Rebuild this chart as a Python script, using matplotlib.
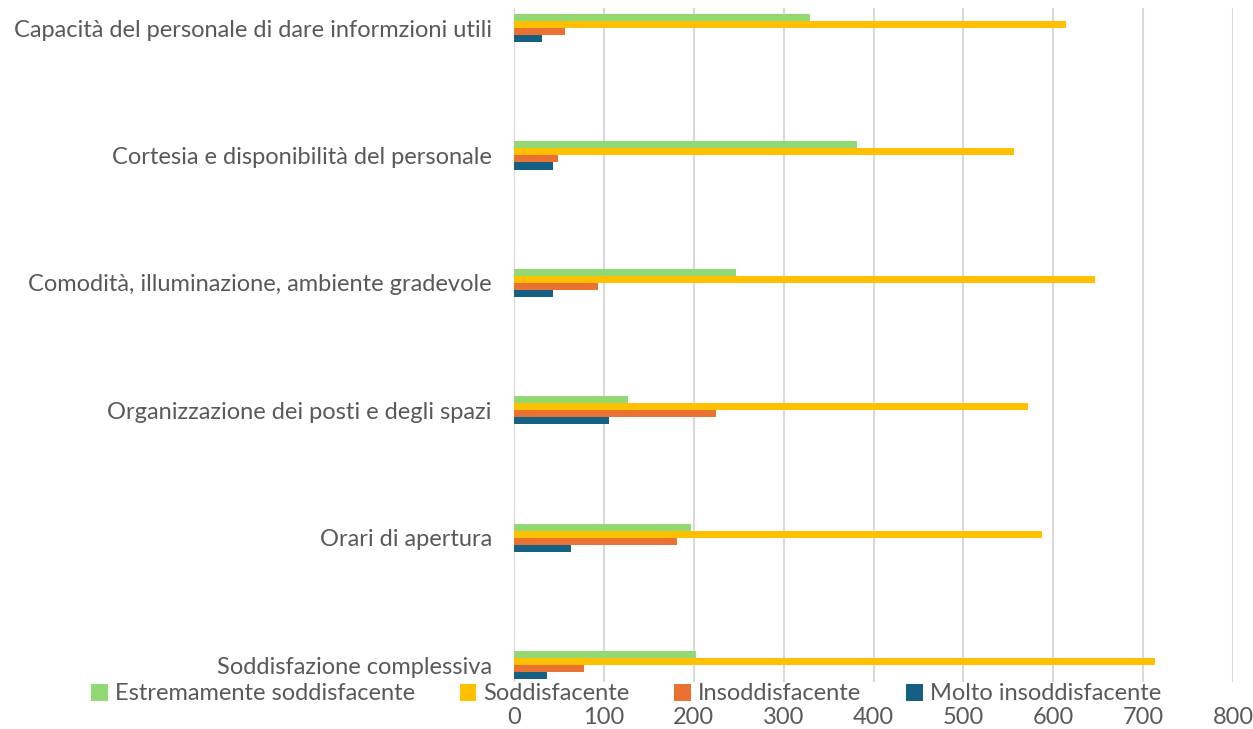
import numpy as np
import matplotlib
matplotlib.use("Agg")
import matplotlib.pyplot as plt
from matplotlib.patches import Patch

plt.rcParams['font.family'] = ['Lato', 'DejaVu Sans']

# categories listed top to bottom
categories = [
    "Capacità del personale di dare informzioni utili",
    "Cortesia e disponibilità del personale",
    "Comodità, illuminazione, ambiente gradevole",
    "Organizzazione dei posti e degli spazi",
    "Orari di apertura",
    "Soddisfazione complessiva",
]
series_names = ["Estremamente soddisfacente", "Soddisfacente",
                "Insoddisfacente", "Molto insoddisfacente"]
estremamente = [329, 382, 247, 127, 197, 202]
soddisfacente = [614, 556, 646, 572, 588, 713]
insoddisfacente = [57, 49, 94, 225, 181, 78]
molto_insodd = [31, 43, 43, 106, 63, 37]
x_ticks = [0, 100, 200, 300, 400, 500, 600, 700, 800]

colors = ["#92D873", "#FFC000", "#E97132", "#156082"]
text_col = "#595959"

W, H = 1253, 729
fig = plt.figure(figsize=(W / 100, H / 100), dpi=100)
ax = fig.add_axes([514 / W, 1 - 682 / H, (1233 - 514) / W, (682 - 8) / H])

y = np.arange(len(categories))
h = 0.0555
data = [estremamente, soddisfacente, insoddisfacente, molto_insodd]
for k, (vals, col, name) in enumerate(zip(data, colors, series_names)):
    ax.barh(y + (k - 1.5) * h, vals, height=h, color=col, label=name, zorder=3)

ax.set_xlim(0, 800)
ax.set_ylim(5.133, -0.157)
ax.set_xticks(x_ticks)
ax.set_yticks(y)
ax.set_yticklabels(categories)
ax.tick_params(axis='y', length=0, pad=16, labelsize=17, labelcolor=text_col)
ax.tick_params(axis='x', length=0, pad=18, labelsize=17, labelcolor=text_col)
for s in ax.spines.values():
    s.set_visible(False)
ax.grid(axis='x', color="#D9D9D9", linewidth=1.5, zorder=0)
ax.set_axisbelow(True)

handles = [Patch(facecolor=c, edgecolor='none') for c in colors]
leg = fig.legend(handles, series_names, loc='center', ncol=4,
                 bbox_to_anchor=(626 / W, 1 - 694 / H), frameon=False,
                 fontsize=17, handlelength=0.7, handleheight=0.7,
                 handletextpad=0.3, columnspacing=1.9, labelcolor=text_col,
                 borderpad=0)

fig.savefig("out.png", dpi=100)
